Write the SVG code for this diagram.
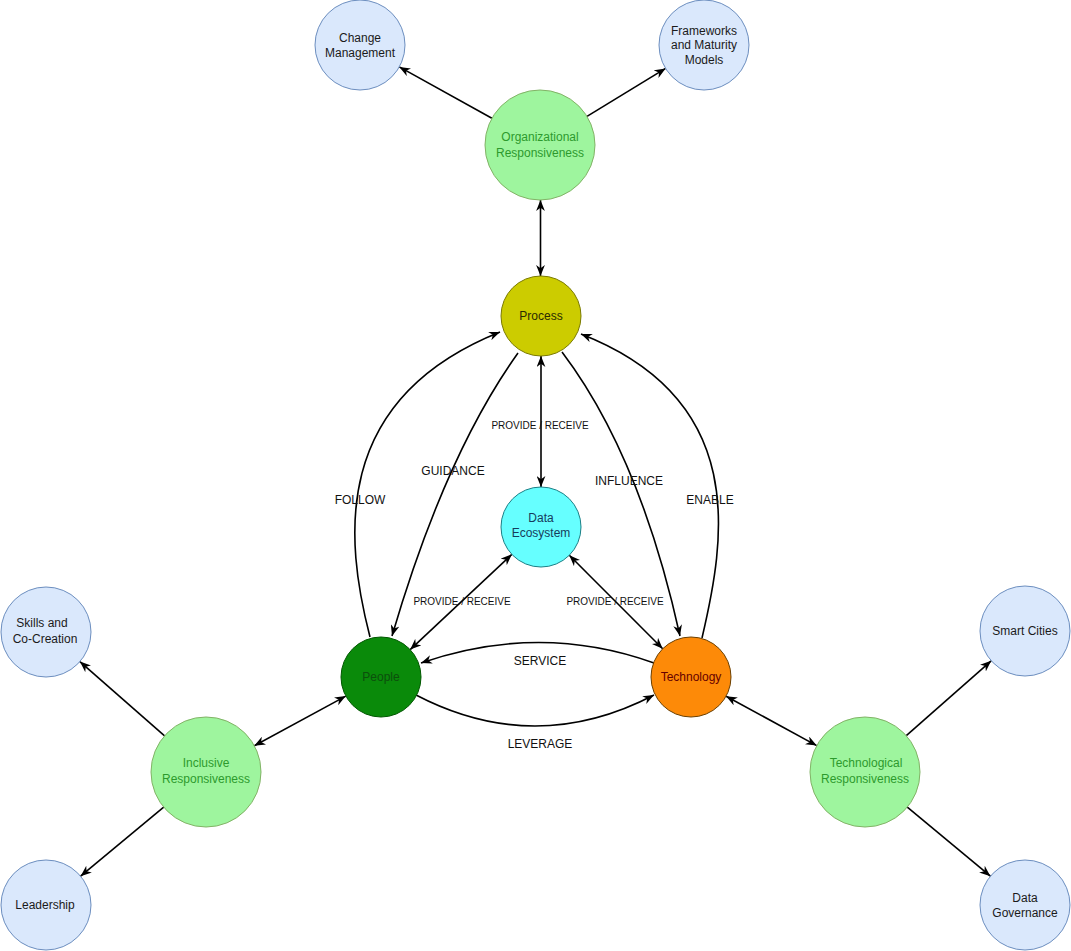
<svg xmlns="http://www.w3.org/2000/svg" width="1071" height="951" viewBox="0 0 1071 951">
<style>
text{font-family:"Liberation Sans",Arial,Helvetica,sans-serif;text-anchor:middle}
.n{font-size:12px}
.lbl{font-size:12px;fill:#111}
.pr{font-size:10px;fill:#111}
.blue circle{fill:#dae8fc;stroke:#6c8ebf;stroke-width:1}
.blue text{fill:#1a1a1a}
.grn circle{fill:#9ef59e;stroke:#82b366;stroke-width:1}
.grn text{fill:#2d9a2d}
.e{fill:none;stroke:#000;stroke-width:1.6}
.one{marker-end:url(#ah)}
.two{marker-start:url(#ah);marker-end:url(#ah)}
</style>
<defs>
<marker id="ah" viewBox="0 0 10 8" refX="10" refY="4" markerWidth="11" markerHeight="9" markerUnits="userSpaceOnUse" orient="auto-start-reverse">
<path d="M0,0 L10,4 L0,8 L3,4 z" fill="#000"/>
</marker>
</defs>
<rect width="1071" height="951" fill="#fff"/>
<g id="connectors">
<line class="e one" x1="491.9" y1="118.3" x2="399.3" y2="66.9"/>
<line class="e one" x1="587" y1="116.4" x2="665.6" y2="68.4"/>
<line class="e two" x1="540.5" y1="200" x2="540.5" y2="276"/>
<line class="e two" x1="541" y1="356" x2="541" y2="487"/>
<line class="e two" x1="511.8" y1="554.4" x2="410.2" y2="649.6"/>
<line class="e two" x1="569.3" y1="555.3" x2="662.7" y2="648.7"/>
<path class="e one" d="M370,637 C345,540 330,400 500,332"/>
<path class="e one" d="M702,638 C725,540 750,400 581,334"/>
<path class="e one" d="M518,353 Q445,455 392,636"/>
<path class="e one" d="M562,352 Q640,455 680,636"/>
<path class="e one" d="M654,663 Q540,622 421,663"/>
<path class="e one" d="M416,695 Q535,757 654,695"/>
<line class="e two" x1="345.8" y1="696.1" x2="254.3" y2="745.8"/>
<line class="e one" x1="164.6" y1="735.8" x2="79.9" y2="661.6"/>
<line class="e one" x1="163.7" y1="807.1" x2="80.6" y2="876.2"/>
<line class="e two" x1="726.1" y1="696.2" x2="816.7" y2="745.6"/>
<line class="e one" x1="906.3" y1="735.6" x2="991.2" y2="660.8"/>
<line class="e one" x1="907.3" y1="807.1" x2="990.4" y2="876.2"/>
<text class="pr" x="540" y="429">PROVIDE / RECEIVE</text>
<text class="pr" x="462" y="605">PROVIDE / RECEIVE</text>
<text class="pr" x="615" y="605">PROVIDE / RECEIVE</text>
<text class="lbl" x="453" y="475">GUIDANCE</text>
<text class="lbl" x="360" y="504">FOLLOW</text>
<text class="lbl" x="629" y="485">INFLUENCE</text>
<text class="lbl" x="710" y="504">ENABLE</text>
<text class="lbl" x="540" y="665">SERVICE</text>
<text class="lbl" x="540" y="748">LEVERAGE</text>
</g>
<g id="change-management" class="blue"><circle cx="360" cy="45" r="45"/><text class="n" x="360" y="42">Change</text><text class="n" x="360" y="57">Management</text></g>
<g id="frameworks" class="blue"><circle cx="704" cy="45" r="45"/><text class="n" x="704" y="35">Frameworks</text><text class="n" x="704" y="49">and Maturity</text><text class="n" x="704" y="64">Models</text></g>
<g id="organizational" class="grn"><circle cx="540" cy="145" r="55"/><text class="n" x="540" y="141">Organizational</text><text class="n" x="540" y="157">Responsiveness</text></g>
<g id="process"><circle cx="541" cy="316" r="40" fill="#cccc00" stroke="#7a7a00" stroke-width="1"/><text class="n" x="541" y="320" fill="#2b2b00">Process</text></g>
<g id="data-ecosystem"><circle cx="541" cy="527" r="40" fill="#66ffff" stroke="#1b7f86" stroke-width="1"/><text class="n" x="541" y="522" fill="#163c5c">Data</text><text class="n" x="541" y="537" fill="#163c5c">Ecosystem</text></g>
<g id="people"><circle cx="381" cy="677" r="40" fill="#0a8a0a" stroke="#005700" stroke-width="1"/><text class="n" x="381" y="681" fill="#0c4f0c">People</text></g>
<g id="technology"><circle cx="691" cy="677" r="40" fill="#fd8a08" stroke="#6b3f00" stroke-width="1"/><text class="n" x="691" y="681" fill="#660000">Technology</text></g>
<g id="inclusive" class="grn"><circle cx="206" cy="772" r="55"/><text class="n" x="206" y="767">Inclusive</text><text class="n" x="206" y="783">Responsiveness</text></g>
<g id="skills" class="blue"><circle cx="46" cy="632" r="45"/><text class="n" x="42" y="627">Skills and</text><text class="n" x="45" y="643">Co-Creation</text></g>
<g id="leadership" class="blue"><circle cx="46" cy="905" r="45"/><text class="n" x="45" y="909">Leadership</text></g>
<g id="technological" class="grn"><circle cx="865" cy="772" r="55"/><text class="n" x="866" y="767">Technological</text><text class="n" x="865" y="783">Responsiveness</text></g>
<g id="smart-cities" class="blue"><circle cx="1025" cy="631" r="45"/><text class="n" x="1025" y="635">Smart Cities</text></g>
<g id="data-governance" class="blue"><circle cx="1025" cy="905" r="45"/><text class="n" x="1025" y="902">Data</text><text class="n" x="1025" y="917">Governance</text></g>
</svg>
